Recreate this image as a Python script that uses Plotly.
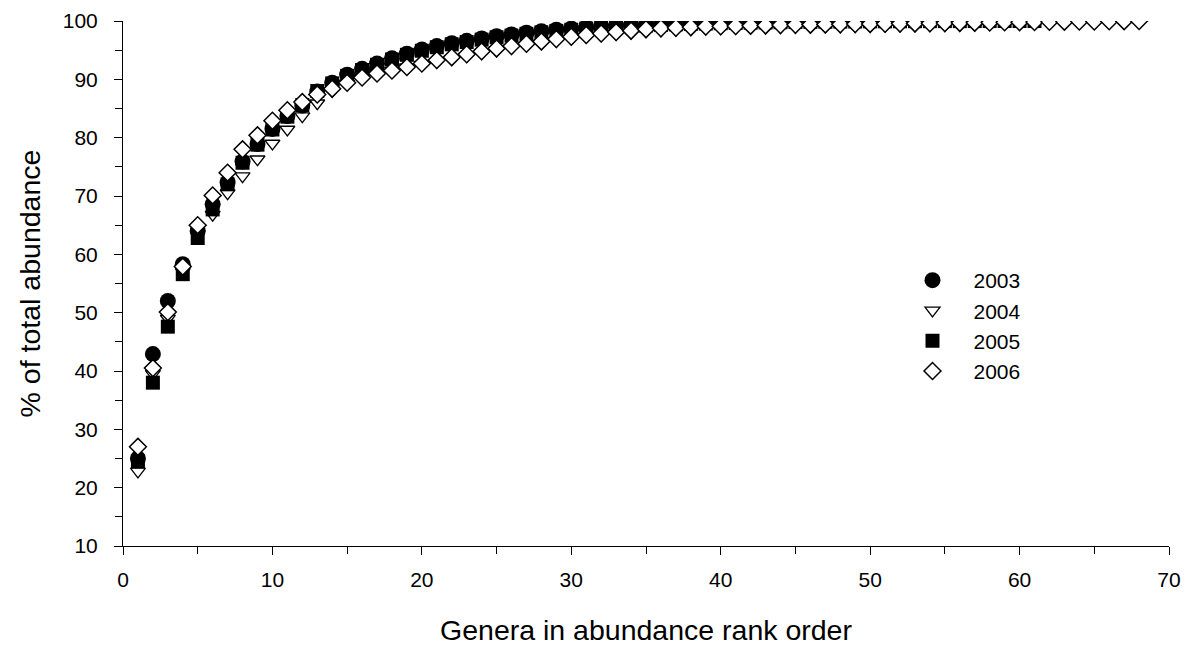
import plotly.graph_objects as go

# cumulative % of total abundance, genera ranked by abundance
y2003 = [25.0, 42.9, 52.0, 58.3, 64.0, 68.6, 72.3, 75.9, 78.9, 81.5,
         83.7, 85.5, 87.9, 89.4, 90.8, 91.8, 92.7, 93.6, 94.4, 95.1,
         95.7, 96.2, 96.6, 97.0, 97.4, 97.7, 98.0, 98.25, 98.5, 98.7,
         98.9, 99.05, 99.2, 99.3, 99.4, 99.48, 99.55, 99.6, 99.65, 99.7,
         99.73, 99.76, 99.79, 99.82, 99.84, 99.86, 99.88, 99.9, 99.91, 99.93,
         99.94, 99.95, 99.96, 99.97, 99.98, 99.99, 99.99, 100.0]

y2004 = [22.8, 39.5, 49.0, 57.0, 63.5, 66.8, 70.5, 73.4, 76.3, 79.0,
         81.4, 83.7, 85.9, 88.0, 89.2, 90.1, 90.9, 91.5, 92.1, 92.5,
         93.0, 93.5, 94.0, 94.5, 94.95, 95.4, 95.8, 96.2, 96.6, 97.0,
         97.3, 97.55, 97.8, 98.0, 98.25, 98.4, 98.5, 98.6, 98.7, 98.75,
         98.8, 98.85, 98.9, 98.95, 99.0, 99.03, 99.06, 99.09, 99.12, 99.15,
         99.18, 99.21, 99.24, 99.27, 99.3, 99.33, 99.36, 99.8, 99.85, 99.9,
         99.93, 99.96, 99.98, 100.0]

y2005 = [24.5, 38.0, 47.6, 56.6, 62.8, 67.7, 72.0, 75.7, 78.8, 81.4,
         83.6, 85.6, 88.0, 89.3, 90.6, 91.6, 92.5, 93.4, 94.2, 94.9,
         95.5, 96.0, 96.4, 96.8, 97.2, 97.5, 97.8, 98.05, 98.3, 98.5,
         98.7, 98.85, 99.0, 99.12, 99.23, 99.33, 99.42, 99.5, 99.56, 99.62,
         99.67, 99.71, 99.75, 99.79, 99.82, 99.85, 99.87, 99.89, 99.91, 99.93,
         99.94, 99.95, 99.96, 99.97, 99.98, 99.98, 99.99, 99.99, 100.0, 100.0,
         100.0]

y2006 = [27.0, 40.5, 50.1, 57.9, 65.0, 70.1, 74.0, 78.0, 80.4, 82.9,
         84.7, 86.1, 87.4, 88.4, 89.4, 90.3, 91.0, 91.5, 92.1, 92.7,
         93.3, 93.8, 94.3, 94.8, 95.3, 95.7, 96.1, 96.5, 96.9, 97.3,
         97.6, 97.85, 98.1, 98.35, 98.6, 98.75, 98.85, 98.95, 99.05, 99.1,
         99.15, 99.2, 99.25, 99.3, 99.35, 99.38, 99.41, 99.44, 99.47, 99.5,
         99.53, 99.56, 99.59, 99.62, 99.65, 99.68, 99.71, 99.74, 99.77, 99.8,
         99.83, 99.86, 99.88, 99.9, 99.92, 99.95, 99.97, 100.0]

# drawn bottom to top; legendrank keeps the legend in year order
series = [
    ("2004", 2, y2004, dict(symbol="triangle-down", size=13, color="white",
                            line=dict(color="black", width=1.3))),
    ("2003", 1, y2003, dict(symbol="circle", size=16, color="black",
                            line=dict(color="black", width=0))),
    ("2005", 3, y2005, dict(symbol="square", size=14, color="black",
                            line=dict(color="black", width=0))),
    ("2006", 4, y2006, dict(symbol="diamond", size=13, color="white",
                            line=dict(color="black", width=1.5))),
]

fig = go.Figure()
for name, rank, vals, marker in series:
    fig.add_trace(go.Scatter(
        x=list(range(1, len(vals) + 1)), y=vals, name=name, legendrank=rank,
        mode="markers", marker=marker,
    ))

FONT = "Liberation Sans, Arial, sans-serif"
axis_common = dict(
    showgrid=False, zeroline=False, showline=True, linecolor="black",
    linewidth=1, ticks="outside", ticklen=8, tickwidth=1, tickcolor="black",
    automargin=False, ticklabeloverflow="allow",
    tickfont=dict(family=FONT, size=21, color="black"),
    minor=dict(ticks="outside", ticklen=7, tickwidth=1, tickcolor="black", dtick=5),
)

fig.update_xaxes(range=[0, 70], dtick=10, tick0=0, ticklabelstandoff=7,
                 title=dict(text="Genera in abundance rank order",
                            font=dict(family=FONT, size=28.5, color="black"),
                            standoff=36),
                 **axis_common)
fig.update_yaxes(range=[10, 100], dtick=10, tick0=0, ticklabelstandoff=12,
                 title=dict(text="% of total abundance",
                            font=dict(family=FONT, size=28.5, color="black"),
                            standoff=13),
                 **axis_common)

fig.update_layout(
    width=1186, height=646,
    margin=dict(l=123, r=17, t=21, b=100),
    plot_bgcolor="white", paper_bgcolor="white",
    font=dict(family=FONT, color="black"),
    legend=dict(x=0.7347, y=0.5448, xanchor="left", yanchor="top",
                font=dict(family=FONT, size=21, color="black"),
                itemwidth=72, tracegroupgap=0, bgcolor="rgba(0,0,0,0)"),
)

# drop the default 8 px body margin so the figure fills the window exactly
fig.write_html("out.html", config={"displayModeBar": False},
               post_script="document.body.style.margin='0';"
                           "document.body.style.overflow='hidden';")
